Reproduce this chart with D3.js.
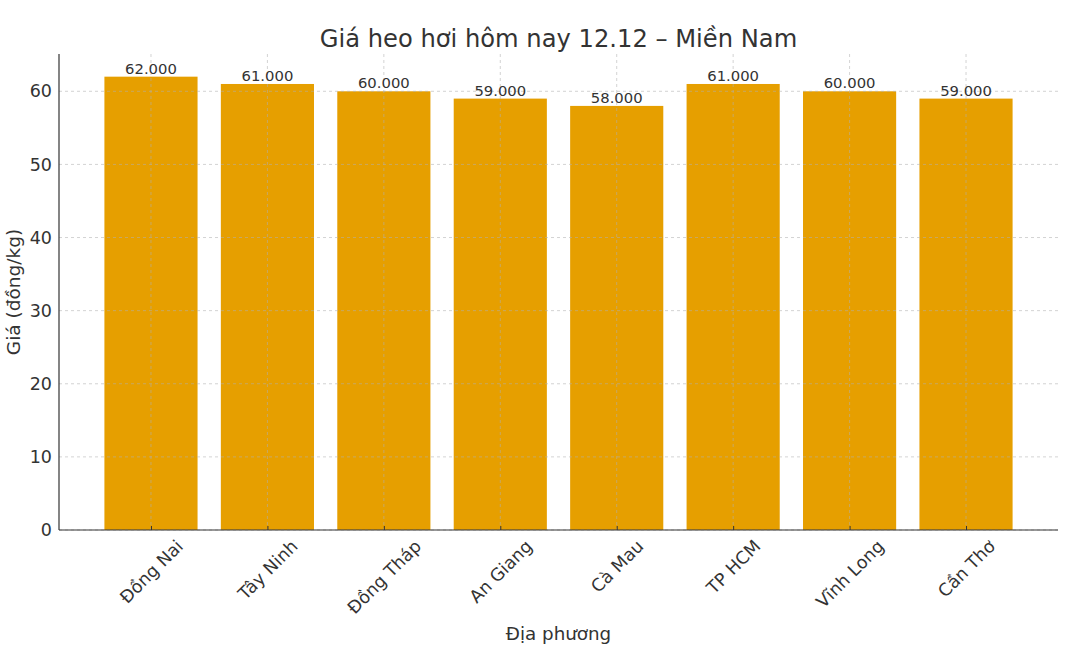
<!DOCTYPE html>
<html><head><meta charset="utf-8">
<script src="https://cdn.jsdelivr.net/npm/d3@7"></script>
<style>body{margin:0;background:#fff}svg{display:block;font-family:"DejaVu Sans",sans-serif}</style>
</head><body><svg id="c" width="1084" height="650"></svg>
<script>
const categories = ["Đồng Nai","Tây Ninh","Đồng Tháp","An Giang","Cà Mau","TP HCM","Vĩnh Long","Cần Thơ"];
const values = [62, 61, 60, 59, 58, 61, 60, 59];
const valueLabels = ["62.000","61.000","60.000","59.000","58.000","61.000","60.000","59.000"];
const yTicks = [0,10,20,30,40,50,60];
const title = "Giá heo hơi hôm nay 12.12 – Miền Nam";
const xTitle = "Địa phương";
const yTitle = "Giá (đồng/kg)";

const svg = d3.select("#c");
const L=59, R=1058, T=54, B=530;
const txt="#333333";
const n=categories.length;
const x = d3.scaleLinear().domain([-0.79, n-1+0.79]).range([L,R]);
const y = d3.scaleLinear().domain([0, 62*1.05]).range([B,T]);
const bw = x(0.8)-x(0);

// bars
svg.append("g").selectAll("rect").data(values).join("rect")
  .attr("x",(d,i)=>x(i)-bw/2).attr("y",d=>y(d))
  .attr("width",bw).attr("height",d=>B-y(d)).attr("fill","#E69F00");

// grid
const g = svg.append("g").attr("stroke","#b0b0b0").attr("stroke-opacity",0.7).attr("stroke-dasharray","3,3").attr("stroke-width",0.8);
yTicks.forEach(t=>g.append("line").attr("x1",L).attr("x2",R).attr("y1",y(t)).attr("y2",y(t)));
categories.forEach((c,i)=>g.append("line").attr("x1",x(i)).attr("x2",x(i)).attr("y1",T).attr("y2",B));

// value labels
svg.append("g").selectAll("text").data(values).join("text")
  .attr("x",(d,i)=>x(i)).attr("y",d=>y(d)-3)
  .attr("text-anchor","middle").attr("font-size",14.8).attr("fill",txt)
  .text((d,i)=>valueLabels[i]);

// axes via d3
const yAxis = d3.axisLeft(y).tickValues(yTicks).tickSize(0).tickPadding(7).tickFormat(d3.format("d"));
const ya = svg.append("g").attr("transform",`translate(${L},0)`).call(yAxis);
ya.select(".domain").remove();
ya.selectAll("text").attr("font-size",17.5).attr("fill",txt).attr("font-family","DejaVu Sans");

const xAxis = d3.axisBottom(x).tickValues(d3.range(n)).tickSize(-4).tickFormat(i=>categories[i]).tickPadding(0);
const xa = svg.append("g").attr("transform",`translate(0,${B})`).call(xAxis);
xa.select(".domain").remove();
xa.selectAll("line").attr("stroke","#333");
xa.selectAll("text").each(function(d){
  const t=d3.select(this);
  t.attr("font-size",17.5).attr("fill",txt).attr("font-family","DejaVu Sans")
   .attr("text-anchor","middle").attr("dy",null).attr("dominant-baseline","central");
  const w=this.getComputedTextLength(), h=17.5;
  const bb=(w+h)/Math.SQRT2;
  t.attr("y",null).attr("transform",`translate(0,${7+bb/2}) rotate(-45)`);
});

// spines
svg.append("line").attr("x1",L).attr("x2",L).attr("y1",T).attr("y2",B).attr("stroke","#333").attr("stroke-width",1.2);
svg.append("line").attr("x1",L).attr("x2",R).attr("y1",B).attr("y2",B).attr("stroke","#333").attr("stroke-width",1.2);

// titles
svg.append("text").attr("x",(L+R)/2).attr("y",47).attr("text-anchor","middle").attr("font-size",24.2).attr("fill",txt).text(title);
svg.append("text").attr("x",(L+R)/2).attr("y",640).attr("text-anchor","middle").attr("font-size",18.3).attr("fill",txt).text(xTitle);
svg.append("text").attr("transform",`translate(20,${(T+B)/2}) rotate(-90)`).attr("text-anchor","middle").attr("font-size",18.5).attr("fill",txt).text(yTitle);
</script></body></html>
